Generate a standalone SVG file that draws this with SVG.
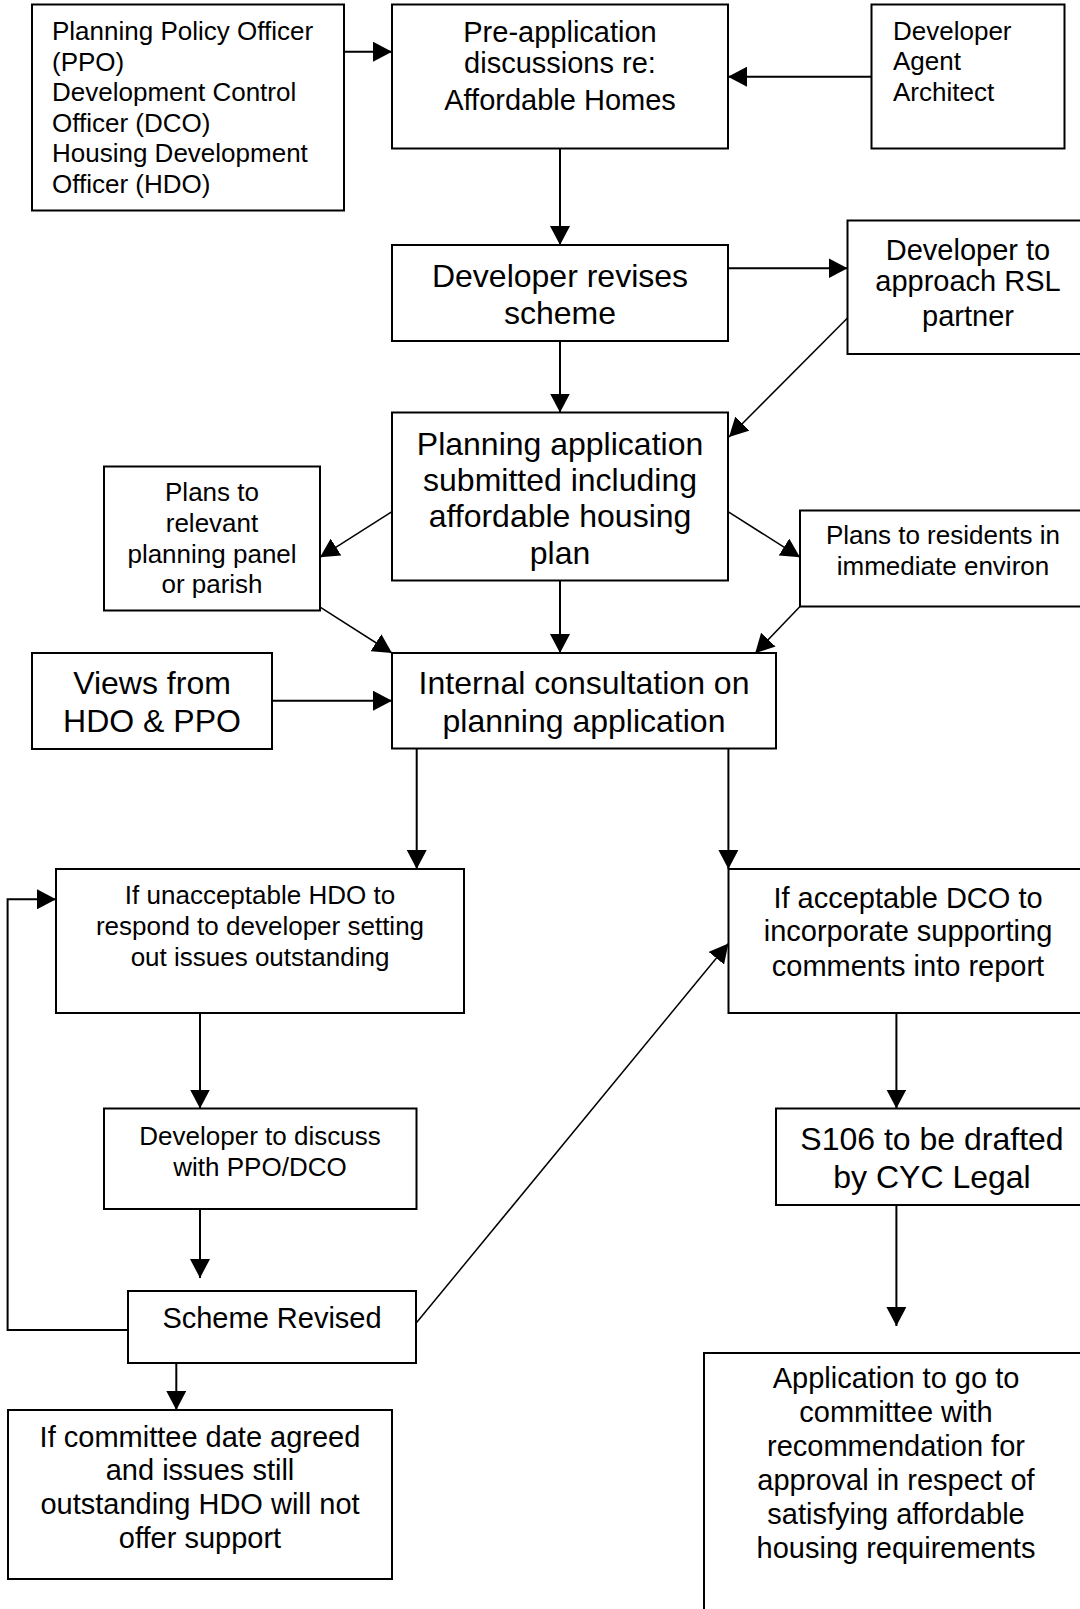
<svg xmlns="http://www.w3.org/2000/svg" width="1080" height="1609" viewBox="0 0 1080 1609">
<style>
.box{fill:#fff;stroke:#000;stroke-width:2}
.t{font-family:"Liberation Sans",Arial,sans-serif;fill:#000}
.c{text-anchor:middle}
.f26{font-size:26px}
.f29{font-size:29px}
.f32{font-size:32px}
.conn path{fill:none;stroke:#000;stroke-width:2;marker-end:url(#ah)}
.conn path.d{stroke-width:1.5}
.conn path.n{marker-end:none}
</style>
<defs>
<marker id="ah" viewBox="0 0 19 20" refX="19" refY="10" markerWidth="19" markerHeight="20" markerUnits="userSpaceOnUse" orient="auto">
<path d="M0,0 L19,10 L0,20 z" fill="#000"/>
</marker>
</defs>
<rect width="1080" height="1609" fill="#fff"/>

<g id="n-ppo">
<rect class="box" x="32" y="4.5" width="312" height="206"/>
<text class="t f26" x="52"><tspan x="52" y="40">Planning Policy Officer</tspan><tspan x="52" y="70.5">(PPO)</tspan><tspan x="52" y="101">Development Control</tspan><tspan x="52" y="131.5">Officer (DCO)</tspan><tspan x="52" y="162">Housing Development</tspan><tspan x="52" y="192.5">Officer (HDO)</tspan></text>
</g>
<g id="n-preapp">
<rect class="box" x="392" y="4.5" width="336" height="144"/>
<text class="t f29 c"><tspan x="560" y="41.7">Pre-application</tspan><tspan x="560" y="73.3">discussions re:</tspan><tspan x="560" y="110">Affordable Homes</tspan></text>
</g>
<g id="n-dev">
<rect class="box" x="871.5" y="4.5" width="193" height="144"/>
<text class="t f26"><tspan x="893" y="39.5">Developer</tspan><tspan x="893" y="69.5">Agent</tspan><tspan x="893" y="101">Architect</tspan></text>
</g>
<g id="n-revises">
<rect class="box" x="392" y="245" width="336" height="96"/>
<text class="t f32 c"><tspan x="560" y="287">Developer revises</tspan><tspan x="560" y="324">scheme</tspan></text>
</g>
<g id="n-rsl">
<rect class="box" x="847.5" y="220.5" width="260" height="133.5"/>
<text class="t f29 c"><tspan x="968" y="260">Developer to</tspan><tspan x="968" y="291">approach RSL</tspan><tspan x="968" y="326">partner</tspan></text>
</g>
<g id="n-planapp">
<rect class="box" x="392" y="412.5" width="336" height="168"/>
<text class="t f32 c"><tspan x="560" y="455">Planning application</tspan><tspan x="560" y="491">submitted including</tspan><tspan x="560" y="527">affordable housing</tspan><tspan x="560" y="564">plan</tspan></text>
</g>
<g id="n-panel">
<rect class="box" x="104" y="466.5" width="216" height="144"/>
<text class="t f26 c"><tspan x="212" y="501">Plans to</tspan><tspan x="212" y="532">relevant</tspan><tspan x="212" y="563">planning panel</tspan><tspan x="212" y="593">or parish</tspan></text>
</g>
<g id="n-residents">
<rect class="box" x="800" y="510.5" width="300" height="96"/>
<text class="t f26 c"><tspan x="943" y="544">Plans to residents in</tspan><tspan x="943" y="575">immediate environ</tspan></text>
</g>
<g id="n-views">
<rect class="box" x="32" y="653" width="240" height="96"/>
<text class="t f32 c"><tspan x="152" y="694">Views from</tspan><tspan x="152" y="732">HDO &amp; PPO</tspan></text>
</g>
<g id="n-internal">
<rect class="box" x="392" y="653" width="384" height="95.5"/>
<text class="t f32 c"><tspan x="584" y="694">Internal consultation on</tspan><tspan x="584" y="732">planning application</tspan></text>
</g>
<g id="n-unacc">
<rect class="box" x="56" y="869" width="408" height="144"/>
<text class="t f26 c"><tspan x="260" y="904">If unacceptable HDO to</tspan><tspan x="260" y="935">respond to developer setting</tspan><tspan x="260" y="966">out issues outstanding</tspan></text>
</g>
<g id="n-acc">
<rect class="box" x="728.5" y="869" width="400" height="144"/>
<text class="t f29 c"><tspan x="908" y="908">If acceptable DCO to</tspan><tspan x="908" y="940.5">incorporate supporting</tspan><tspan x="908" y="976">comments into report</tspan></text>
</g>
<g id="n-discuss">
<rect class="box" x="104" y="1108.5" width="312.5" height="100.5"/>
<text class="t f26 c"><tspan x="260" y="1145">Developer to discuss</tspan><tspan x="260" y="1176">with PPO/DCO</tspan></text>
</g>
<g id="n-s106">
<rect class="box" x="776" y="1108.5" width="330" height="96.5"/>
<text class="t f32 c"><tspan x="932" y="1150">S106 to be drafted</tspan><tspan x="932" y="1188">by CYC Legal</tspan></text>
</g>
<g id="n-scheme">
<rect class="box" x="128" y="1291" width="288" height="72"/>
<text class="t f29 c" x="272" y="1328">Scheme Revised</text>
</g>
<g id="n-committee">
<rect class="box" x="8" y="1410" width="384" height="169"/>
<text class="t f29 c"><tspan x="200" y="1447">If committee date agreed</tspan><tspan x="200" y="1480">and issues still</tspan><tspan x="200" y="1513.5">outstanding HDO will not</tspan><tspan x="200" y="1548">offer support</tspan></text>
</g>
<g id="n-application">
<rect class="box" x="704" y="1353" width="400" height="300"/>
<text class="t f29 c"><tspan x="896" y="1388">Application to go to</tspan><tspan x="896" y="1422">committee with</tspan><tspan x="896" y="1456">recommendation for</tspan><tspan x="896" y="1490">approval in respect of</tspan><tspan x="896" y="1523.5">satisfying affordable</tspan><tspan x="896" y="1557.5">housing requirements</tspan></text>
</g>

<g id="connectors" class="conn">
<path d="M344,51.7 H392"/>
<path d="M871.5,76.7 H728"/>
<path d="M560,148.5 V245"/>
<path d="M728,268.3 H847.5"/>
<path class="d" d="M847.5,318 L729,437"/>
<path d="M560,341 V412.5"/>
<path class="d" d="M392,511.7 L320,557.3"/>
<path class="d" d="M728,511.7 L800,557.3"/>
<path class="d" d="M320.5,607.3 L392,653"/>
<path d="M560,580.5 V653"/>
<path class="d" d="M800,606.5 L755.2,653.3"/>
<path d="M272,700.7 H392"/>
<path d="M416.7,748.5 V869"/>
<path d="M728.4,748.5 V869"/>
<path d="M200,1013 V1108.5"/>
<path d="M896.4,1013 V1108.5"/>
<path d="M200,1209 V1278"/>
<path class="d" d="M416,1323.3 L728.4,943.5"/>
<path d="M128,1330 H7.6 V899.3 H56"/>
<path d="M176.3,1363 V1410"/>
<path d="M896.4,1205 V1326"/>
</g>
</svg>
